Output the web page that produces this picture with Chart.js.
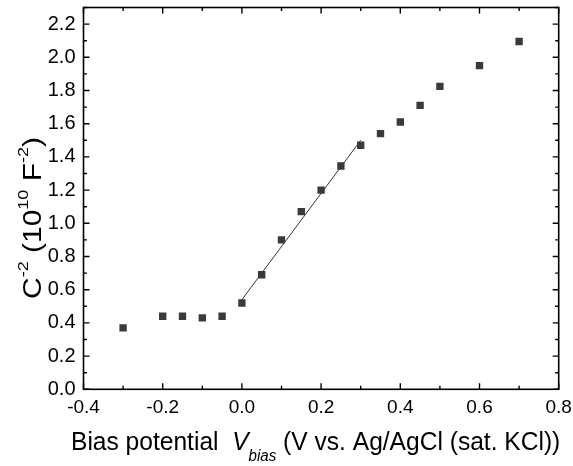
<!DOCTYPE html>
<html>
<head>
<meta charset="utf-8">
<script src="https://cdn.jsdelivr.net/npm/chart.js@4.4.1/dist/chart.umd.min.js"></script>
<style>
  html, body { margin: 0; padding: 0; background: #ffffff; }
  #wrap { width: 573px; height: 466px; position: relative; }
</style>
</head>
<body>
<div id="wrap"><canvas id="c"></canvas></div>
<script>
// Mott–Schottky data: bias potential (V vs. Ag/AgCl) and C^-2 (10^10 F^-2)
const biasV = [-0.30, -0.20, -0.15, -0.10, -0.05, 0.00, 0.05, 0.10, 0.15, 0.20, 0.25, 0.30, 0.35, 0.40, 0.45, 0.50, 0.60, 0.70];
const invC2 = [0.37, 0.44, 0.44, 0.43, 0.44, 0.52, 0.69, 0.90, 1.07, 1.20, 1.345, 1.47, 1.54, 1.61, 1.71, 1.825, 1.95, 2.095];

// Linear fit over the depletion region
const fitX = [0.00, 0.30];
const fitY = [0.54, 1.50];

// Axis ranges and tick steps
const xRange = [-0.4, 0.8];
const yRange = [0.0, 2.3];
const xMajor = 0.2, xMinor = 0.1;
const yMajor = 0.2, yMinor = 0.1;

const FONT = '"Liberation Sans", Arial, Helvetica, sans-serif';

const points = biasV.map((x, i) => ({ x: x, y: invC2[i] }));
const fitLine = fitX.map((x, i) => ({ x: x, y: fitY[i] }));

// Frame, inward major/minor ticks on all four sides, and axis titles
const framePlugin = {
  id: 'frameAndTitles',
  afterDraw(chart) {
    const ctx = chart.ctx;
    const a = chart.chartArea;
    const xs = chart.scales.x, ys = chart.scales.y;
    ctx.save();
    ctx.strokeStyle = '#000';
    ctx.lineWidth = 1.6;
    ctx.strokeRect(a.left, a.top, a.right - a.left, a.bottom - a.top);

    ctx.lineWidth = 1.4;
    ctx.beginPath();
    const nx = Math.round((xRange[1] - xRange[0]) / xMinor);
    for (let i = 0; i <= nx; i++) {
      const v = xRange[0] + i * xMinor;
      const px = xs.getPixelForValue(v);
      const len = (i % Math.round(xMajor / xMinor) === 0) ? 6 : 3.5;
      ctx.moveTo(px, a.bottom); ctx.lineTo(px, a.bottom - len);
      ctx.moveTo(px, a.top); ctx.lineTo(px, a.top + len);
    }
    const ny = Math.round((yRange[1] - yRange[0]) / yMinor);
    for (let i = 0; i <= ny; i++) {
      const v = yRange[0] + i * yMinor;
      const py = ys.getPixelForValue(v);
      const len = (i % Math.round(yMajor / yMinor) === 0) ? 6 : 3.5;
      ctx.moveTo(a.left, py); ctx.lineTo(a.left + len, py);
      ctx.moveTo(a.right, py); ctx.lineTo(a.right - len, py);
    }
    ctx.stroke();

    // draws a sequence of text runs along one baseline
    function runs(list) {
      let x = 0;
      ctx.textBaseline = 'alphabetic';
      ctx.textAlign = 'left';
      for (const r of list) {
        ctx.font = r.font;
        ctx.fillText(r.text, x, r.dy || 0);
        x += ctx.measureText(r.text).width;
      }
    }
    ctx.fillStyle = '#000';

    // x-axis title
    ctx.save();
    ctx.translate(71, 450);
    ctx.scale(0.945, 1);
    runs([
      { text: 'Bias potential  ', font: '26px ' + FONT },
      { text: 'V', font: 'italic 26px ' + FONT },
      { text: 'bias', font: 'italic 16px ' + FONT, dy: 11 },
      { text: ' (V vs. Ag/AgCl (sat. KCl))', font: '26px ' + FONT }
    ]);
    ctx.restore();

    // y-axis title, rotated to read upwards
    ctx.save();
    ctx.translate(41, 299);
    ctx.rotate(-Math.PI / 2);
    ctx.scale(1.2, 1);
    runs([
      { text: 'C', font: '25px ' + FONT },
      { text: '-2', font: '15px ' + FONT, dy: -13 },
      { text: ' (10', font: '25px ' + FONT },
      { text: '10', font: '15px ' + FONT, dy: -13 },
      { text: ' F', font: '25px ' + FONT },
      { text: '-2', font: '15px ' + FONT, dy: -13 },
      { text: ')', font: '25px ' + FONT }
    ]);
    ctx.restore();
    ctx.restore();
  }
};

new Chart(document.getElementById('c'), {
  type: 'scatter',
  data: {
    datasets: [
      {
        label: 'data',
        data: points,
        pointStyle: 'rect',
        pointRadius: 5.2,
        pointHoverRadius: 5.2,
        backgroundColor: '#3a3a3a',
        borderWidth: 0,
        showLine: false
      },
      {
        label: 'fit',
        data: fitLine,
        showLine: true,
        pointRadius: 0,
        borderColor: '#333333',
        borderWidth: 1,
        fill: false
      }
    ]
  },
  options: {
    responsive: true,
    maintainAspectRatio: false,
    animation: false,
    layout: { padding: { left: 0, right: 14.3, top: 7.5, bottom: 0 } },
    plugins: {
      legend: { display: false },
      tooltip: { enabled: false },
      title: { display: false }
    },
    scales: {
      x: {
        type: 'linear',
        min: xRange[0],
        max: xRange[1],
        border: { display: false },
        grid: { display: false, drawTicks: false },
        ticks: {
          stepSize: xMajor,
          autoSkip: false,
          includeBounds: false,
          padding: 7,
          color: '#000',
          font: { family: FONT, size: 19 },
          maxRotation: 0,
          callback: v => (Math.abs(v) < 1e-9 ? 0 : v).toFixed(1)
        },
        afterFit: s => {
          s.height = 76.7;
          s.paddingLeft = 0; s.paddingRight = 0;
        }
      },
      y: {
        type: 'linear',
        min: yRange[0],
        max: yRange[1],
        border: { display: false },
        grid: { display: false, drawTicks: false },
        ticks: {
          stepSize: yMajor,
          autoSkip: false,
          includeBounds: false,
          padding: 8,
          color: '#000',
          font: { family: FONT, size: 20 },
          callback: v => v.toFixed(1)
        },
        afterFit: s => {
          s.width = 83.5;
          s.paddingTop = 0; s.paddingBottom = 0;
        }
      }
    }
  },
  plugins: [framePlugin]
});
</script>
</body>
</html>
